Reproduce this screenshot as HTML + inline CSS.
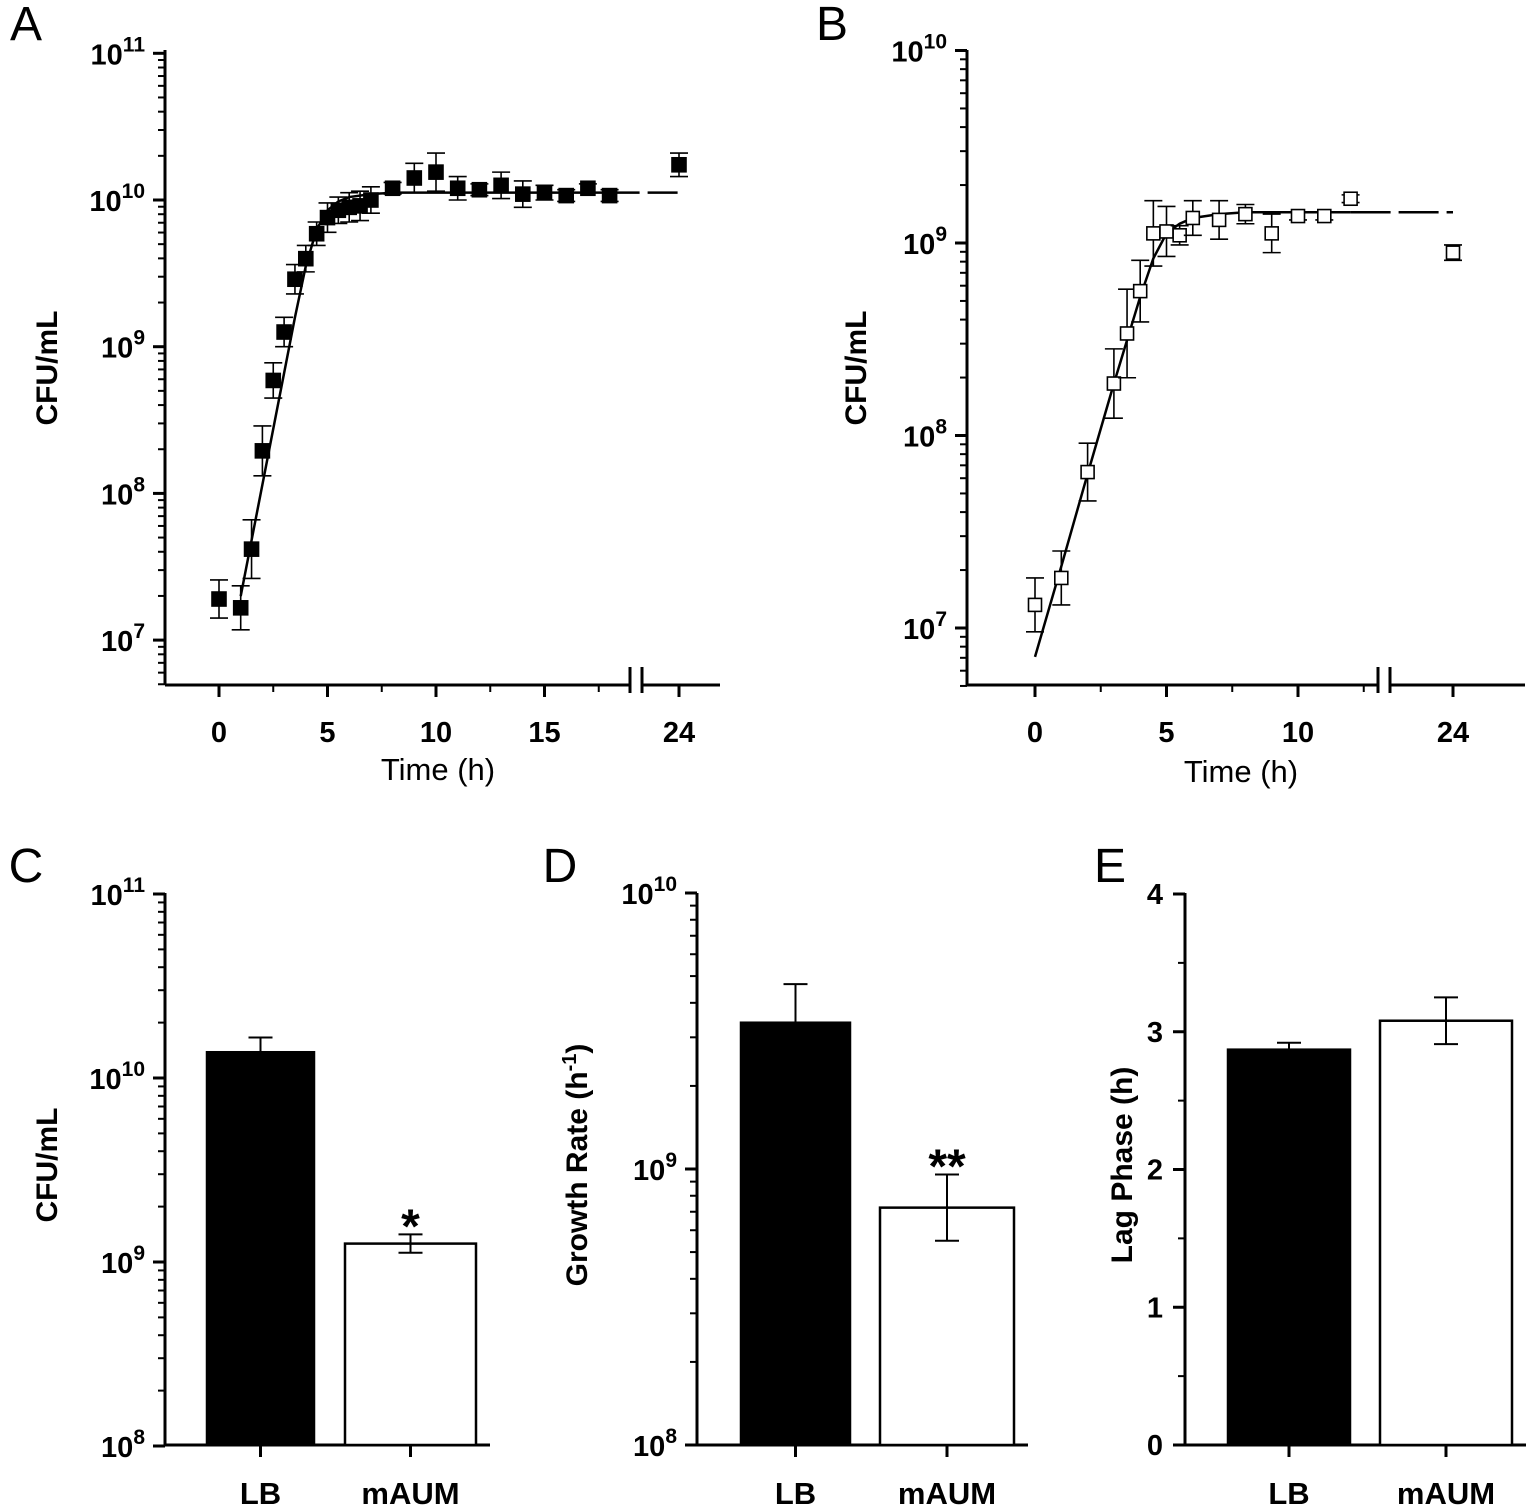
<!DOCTYPE html>
<html><head><meta charset="utf-8">
<style>
html,body{margin:0;padding:0;background:#fff;}
svg{display:block;font-family:"Liberation Sans",Arial,sans-serif;}
.lab{font-weight:bold;font-size:30px;}
.tl{font-weight:bold;font-size:29px;}
.pl{font-size:48px;}
.at{font-size:31px;}
</style></head>
<body>
<svg id="s" width="1535" height="1509" viewBox="0 0 1535 1509" xmlns="http://www.w3.org/2000/svg"></svg>
<script>
// ---- Panel A data (log10 CFU/mL) ----
const aTimes=[0,1,1.5,2,2.5,3,3.5,4,4.5,5,5.5,6,6.5,7,8,9,10,11,12,13,14,15,16,17,18,24];
const aVals=[7.28,7.22,7.62,8.29,8.77,9.10,9.46,9.60,9.77,9.88,9.93,9.95,9.96,10.0,10.08,10.15,10.19,10.08,10.07,10.10,10.04,10.05,10.03,10.08,10.03,10.24];
const aErr=[0.13,0.15,0.20,0.17,0.12,0.10,0.10,0.09,0.08,0.10,0.09,0.10,0.10,0.09,0.04,0.10,0.13,0.08,0.04,0.09,0.09,0.05,0.04,0.03,0.04,0.08];
const aFitT=[1,1.5,2,2.5,3,3.5,4,4.5,5,5.5,6,7,8,10,18];
const aFitV=[7.3,7.68,8.06,8.44,8.82,9.2,9.55,9.8,9.93,9.99,10.02,10.04,10.05,10.05,10.05];
// ---- Panel B data ----
const bTimes=[0,1,2,3,3.5,4,4.5,5,5.5,6,7,8,9,10,11,12,24];
const bVals=[7.12,7.26,7.81,8.27,8.53,8.75,9.05,9.06,9.04,9.13,9.12,9.15,9.05,9.14,9.14,9.23,8.95];
const bErr=[0.14,0.14,0.15,0.18,0.23,0.16,0.17,0.13,0.05,0.09,0.10,0.05,0.10,0.02,0.02,0.02,0.04];
const bFitT=[0,1,2,3,4,4.5,5,5.5,6,7,8,12,24];
const bFitV=[6.85,7.32,7.8,8.27,8.72,8.92,9.05,9.1,9.13,9.15,9.16,9.16,9.16];
// ---- Panel C/D/E ----
const barCats=["LB","mAUM"];
const cVals=[10.14,9.10]; const cErr=[0.08,0.05];
const dVals=[9.53,8.86]; const dErr=[0.14,0.12];
const eVals=[2.87,3.08]; const eErr=[0.05,0.17];

const S=document.getElementById('s');const NS="http://www.w3.org/2000/svg";
function el(t,a,p){const e=document.createElementNS(NS,t);for(const k in a)e.setAttribute(k,a[k]);(p||S).appendChild(e);return e;}
function ln(x1,y1,x2,y2,w,p,dash){return el('line',{x1,y1,x2,y2,stroke:'#000','stroke-width':w||3,'stroke-dasharray':dash||'none'},p);}
function txt(x,y,s,cls,anchor,p){const t=el('text',{x,y,class:cls,'text-anchor':anchor||'middle'},p);t.textContent=s;return t;}
function pow(x,y,e,p){const t=el('text',{x,y,class:'tl','text-anchor':'end'},p);t.textContent='10';const s=el('tspan',{dy:-13,'font-size':21},t);s.textContent=e;return t;}

function logAxis(g,ax,yTop,yBot,dec0,dec1,ypx){
  ln(ax,yTop,ax,yBot,3,g);
  for(let d=dec0;d<=dec1;d++){const y=ypx(d);ln(ax-12,y,ax,y,3,g);pow(ax-20,y+11,String(d),g);}
  for(let d=dec0-1;d<=dec1;d++){for(let m=2;m<=9;m++){const v=d+Math.log10(m);const y=ypx(v);if(y<yTop-1||y>yBot+1)continue;ln(ax-7,y,ax,y,2,g);}}
}
function errPt(g,x,y,ylo,yhi,filled,sz){
  ln(x,ylo,x,yhi,1.6,g);ln(x-9,ylo,x+9,ylo,1.6,g);ln(x-9,yhi,x+9,yhi,1.6,g);
  const r=el('rect',{x:x-sz/2,y:y-sz/2,width:sz,height:sz,fill:filled?'#000':'#fff',stroke:'#000','stroke-width':1.6},g);
  
}

// ===== Panel A =====
(function(){
const g=el('g',{});
const ax=165, yTop=50, yBot=685;
const y=v=>200+(10-v)*146.7;
const x=t=>t<=20?219+t*21.7:679+(t-24)*21.7;
txt(26,40,'A','pl','middle',g);
logAxis(g,ax,yTop,yBot,7,11,y);
ln(ax,yBot,630,yBot,3,g);ln(642,yBot,720,yBot,3,g);
ln(630,yBot-18,630,yBot+8,3,g);ln(642,yBot-18,642,yBot+8,3,g);
[0,5,10,15].forEach(t=>{ln(x(t),yBot,x(t),yBot+12,3,g);txt(x(t),742,String(t),'tl','middle',g);});
[2.5,7.5,12.5,17.5].forEach(t=>ln(x(t),yBot,x(t),yBot+7,2,g));
ln(x(24),yBot,x(24),yBot+12,3,g);txt(x(24),742,'24','tl','middle',g);
txt(438,780,'Time (h)','at','middle',g);
const yl=txt(0,0,'CFU/mL','lab','middle',g);yl.setAttribute('transform','translate(57,368) rotate(-90)');

let d='';aFitT.forEach((t,i)=>{d+=(i?'L':'M')+x(t)+' '+y(aFitV[i]);});
el('path',{d,fill:'none',stroke:'#000','stroke-width':2.5},g);
ln(x(18),y(10.05),x(24),y(10.05),2.5,g,'30 8');
aTimes.forEach((t,i)=>errPt(g,x(t),y(aVals[i]),y(aVals[i]-aErr[i]),y(aVals[i]+aErr[i]),true,14));
})();

// ===== Panel B =====
(function(){
const g=el('g',{});
const ax=967, yTop=50, yBot=685;
const y=v=>243+(9-v)*192.5;
const x=t=>t<=15?1035+t*26.3:1453+(t-24)*26.3;
txt(832,40,'B','pl','middle',g);
logAxis(g,ax,yTop,yBot,7,10,y);
ln(ax,yBot,1378,yBot,3,g);ln(1390,yBot,1525,yBot,3,g);
ln(1378,yBot-18,1378,yBot+8,3,g);ln(1390,yBot-18,1390,yBot+8,3,g);
[0,5,10].forEach(t=>{ln(x(t),yBot,x(t),yBot+12,3,g);txt(x(t),742,String(t),'tl','middle',g);});
[2.5,7.5,12.5].forEach(t=>ln(x(t),yBot,x(t),yBot+7,2,g));
ln(x(24),yBot,x(24),yBot+12,3,g);txt(x(24),742,'24','tl','middle',g);
txt(1241,782,'Time (h)','at','middle',g);
const yl=txt(0,0,'CFU/mL','lab','middle',g);yl.setAttribute('transform','translate(866,368) rotate(-90)');

let d='';bFitT.slice(0,12).forEach((t,i)=>{d+=(i?'L':'M')+x(t)+' '+y(bFitV[i]);});
el('path',{d,fill:'none',stroke:'#000','stroke-width':2.5},g);
ln(x(12),y(9.16),x(24),y(9.16),2.5,g,'40 8');
bTimes.forEach((t,i)=>errPt(g,x(t),y(bVals[i]),y(bVals[i]-bErr[i]),y(bVals[i]+bErr[i]),false,13));
})();

// ===== bar panels =====
function barPanel(name,letter,lx,ax,y,vals,errs,bars,title,tx,ticksFn,stars){
  const g=el('g',{});
  txt(lx,882,letter,'pl','middle',g);
  ticksFn(g);
  ln(ax,1445,bars[1][1]+14,1445,3,g);
  vals.forEach((v,i)=>{
    const [x0,x1]=bars[i];const yt=y(v);
    const r=el('rect',{x:x0,y:yt,width:x1-x0,height:1445-yt,fill:i?'#fff':'#000',stroke:'#000','stroke-width':2.5},g);
    
    const cx=(x0+x1)/2;const yh=y(v+errs[i]);ln(cx,yt,cx,yh,2,g);ln(cx-12,yh,cx+12,yh,2,g);
    if(i){const yl=y(v-errs[i]);ln(cx,yt,cx,yl,2,g);ln(cx-12,yl,cx+12,yl,2,g);}
    ln(cx,1445,cx,1457,3,g);txt(cx,1504,barCats[i],'at','middle',g).setAttribute('font-weight','bold');
    if(i&&stars){const st=el('text',{x:cx,y:yh+8,'text-anchor':'middle',style:'font-size:48px;font-weight:bold'},g);st.textContent=stars;
      
      }
  });
  if(title){const yl=txt(0,0,title,'lab','middle',g);yl.setAttribute('transform','translate('+tx+',1165) rotate(-90)');
  }
}
{const y=v=>1078+(10-v)*184;
barPanel('panel-c','C',26,165,y,cVals,cErr,[[207,314],[345,476]],'CFU/mL',57,g=>logAxis(g,165,893,1445,8,11,y),'*');}
{const y=v=>1169+(9-v)*276;
barPanel('panel-d','D',560,697,y,dVals,dErr,[[741,850],[880,1014]],'',585,g=>logAxis(g,697,893,1445,8,10,y),'**');
const t=el('text',{class:'lab','text-anchor':'middle',transform:'translate(587,1165) rotate(-90)'});t.textContent='Growth Rate  (h';const sp=el('tspan',{dy:-11,'font-size':20},t);sp.textContent='-1';const sp2=el('tspan',{dy:11},t);sp2.textContent=')';}
{const y=v=>1445-v*137.75;
barPanel('panel-e','E',1110,1185,y,eVals,eErr,[[1228,1350],[1380,1512]],'Lag Phase (h)',1132,g=>{
  ln(1185,893,1185,1445,3,g);
  [0,1,2,3,4].forEach(v=>{ln(1173,y(v),1185,y(v),3,g);txt(1163,y(v)+10,String(v),'tl','end',g);});
  [0.5,1.5,2.5,3.5].forEach(v=>ln(1178,y(v),1185,y(v),2,g));
},'');}
</script>
</body></html>
